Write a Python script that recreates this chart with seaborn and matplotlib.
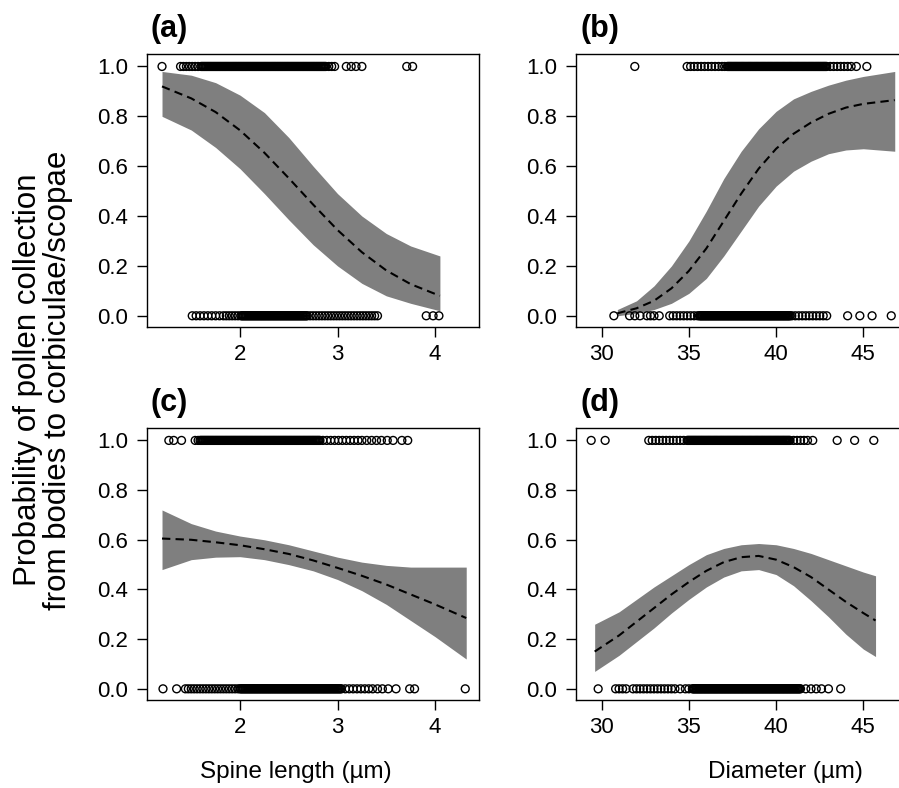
import numpy as np
import matplotlib
matplotlib.use("Agg")
import matplotlib.pyplot as plt
import seaborn as sns

# ---- data ----
# (a) spine length, model with spine length only
spine_a_yes = [1.20, 1.39, 1.42, 1.45, 1.48, 1.51, 1.54, 1.57,
               1.60, 1.61, 1.62, 1.63, 1.64, 1.65, 1.66, 1.67, 1.68, 1.69,
               1.70, 1.71, 1.72, 1.73, 1.74, 1.75, 1.76, 1.77, 1.78, 1.79,
               1.80, 1.81, 1.82, 1.83, 1.84, 1.85, 1.86, 1.87, 1.88, 1.89,
               1.90, 1.91, 1.92, 1.93, 1.94, 1.95, 1.96, 1.97, 1.98, 1.99,
               2.00, 2.01, 2.02, 2.03, 2.04, 2.05, 2.06, 2.07, 2.08, 2.09,
               2.10, 2.11, 2.12, 2.13, 2.14, 2.15, 2.16, 2.17, 2.18, 2.19,
               2.20, 2.21, 2.22, 2.23, 2.24, 2.25, 2.26, 2.27, 2.28, 2.29,
               2.30, 2.31, 2.32, 2.33, 2.34, 2.35, 2.36, 2.37, 2.38, 2.39,
               2.40, 2.41, 2.42, 2.43, 2.44, 2.45, 2.46, 2.47, 2.48, 2.49,
               2.50, 2.51, 2.52, 2.53, 2.54, 2.55, 2.56, 2.57, 2.58, 2.59,
               2.60, 2.61, 2.62, 2.63, 2.64, 2.65, 2.66, 2.67, 2.68, 2.69,
               2.70, 2.71, 2.72, 2.73, 2.74, 2.75, 2.76, 2.77, 2.78, 2.79,
               2.80, 2.81, 2.82, 2.83, 2.84, 2.85, 2.86, 2.87, 2.88,
               2.91, 2.94, 2.97, 3.09, 3.14, 3.19, 3.25, 3.71, 3.77]
spine_a_no = [1.51, 1.55, 1.59, 1.63, 1.67, 1.71, 1.75, 1.79, 1.83, 1.86, 1.89, 1.92, 1.95,
              1.98, 2.01, 2.02, 2.03, 2.04, 2.05, 2.06, 2.07, 2.08, 2.09,
              2.10, 2.11, 2.12, 2.13, 2.14, 2.15, 2.16, 2.17, 2.18, 2.19,
              2.20, 2.21, 2.22, 2.23, 2.24, 2.25, 2.26, 2.27, 2.28, 2.29,
              2.30, 2.31, 2.32, 2.33, 2.34, 2.35, 2.36, 2.37, 2.38, 2.39,
              2.40, 2.41, 2.42, 2.43, 2.44, 2.45, 2.46, 2.47, 2.48, 2.49,
              2.50, 2.51, 2.52, 2.53, 2.54, 2.55, 2.56, 2.57, 2.58, 2.59,
              2.60, 2.61, 2.62, 2.63, 2.64, 2.65, 2.66, 2.67, 2.68, 2.69,
              2.72, 2.75, 2.78, 2.81, 2.84, 2.87, 2.90, 2.93, 2.96, 2.99, 3.02, 3.05,
              3.08, 3.11, 3.14, 3.17, 3.20, 3.23, 3.26, 3.29, 3.32, 3.35, 3.38, 3.41,
              3.91, 3.98, 4.04]
fit_a_x = [1.20, 1.50, 1.75, 2.00, 2.25, 2.50, 2.75, 3.00, 3.25, 3.50, 3.75, 4.05]
fit_a_mean = [0.920, 0.872, 0.817, 0.744, 0.654, 0.552, 0.446, 0.344, 0.255, 0.182, 0.127, 0.080]
fit_a_upper = [0.980, 0.965, 0.935, 0.885, 0.815, 0.715, 0.600, 0.490, 0.400, 0.330, 0.280, 0.240]
fit_a_lower = [0.800, 0.745, 0.675, 0.590, 0.490, 0.385, 0.285, 0.200, 0.130, 0.080, 0.050, 0.020]

# (b) diameter
diam_b_yes = [31.9, 34.9, 35.1, 35.3, 35.5, 35.7, 35.9, 36.1, 36.3, 36.5, 36.7, 36.9, 37.05,
              37.2, 37.25, 37.3, 37.35, 37.4, 37.45, 37.5, 37.55, 37.6, 37.65, 37.7, 37.75,
              37.8, 37.85, 37.9, 37.95, 38.0, 38.05, 38.1, 38.15, 38.2, 38.25, 38.3, 38.35,
              38.4, 38.45, 38.5, 38.55, 38.6, 38.65, 38.7, 38.75, 38.8, 38.85, 38.9, 38.95,
              39.0, 39.05, 39.1, 39.15, 39.2, 39.25, 39.3, 39.35, 39.4, 39.45, 39.5, 39.55,
              39.6, 39.65, 39.7, 39.75, 39.8, 39.85, 39.9, 39.95, 40.0, 40.05, 40.1, 40.15,
              40.2, 40.25, 40.3, 40.35, 40.4, 40.45, 40.5, 40.55, 40.6, 40.65, 40.7, 40.75,
              40.8, 40.85, 40.9, 40.95, 41.0, 41.05, 41.1, 41.15, 41.2, 41.25, 41.3, 41.35,
              41.4, 41.45, 41.5, 41.55, 41.6, 41.65, 41.7, 41.75, 41.8, 41.85, 41.9, 41.95,
              42.0, 42.05, 42.1, 42.15, 42.2, 42.25, 42.3, 42.35, 42.4, 42.45, 42.5, 42.55,
              42.6, 42.65, 42.7, 42.75, 42.8, 42.85, 42.9,
              43.1, 43.3, 43.5, 43.7, 43.9, 44.1, 44.3, 44.6, 45.2]
diam_b_no = [30.7, 31.6, 31.9, 32.2, 32.6, 32.8, 33.0, 33.3, 33.9, 34.1, 34.3, 34.5, 34.7,
             34.9, 35.1, 35.3, 35.5,
             35.6, 35.65, 35.7, 35.75, 35.8, 35.85, 35.9, 35.95, 36.0, 36.05, 36.1, 36.15,
             36.2, 36.25, 36.3, 36.35, 36.4, 36.45, 36.5, 36.55, 36.6, 36.65, 36.7, 36.75,
             36.8, 36.85, 36.9, 36.95, 37.0, 37.05, 37.1, 37.15, 37.2, 37.25, 37.3, 37.35,
             37.4, 37.45, 37.5, 37.55, 37.6, 37.65, 37.7, 37.75, 37.8, 37.85, 37.9, 37.95,
             38.0, 38.05, 38.1, 38.15, 38.2, 38.25, 38.3, 38.35, 38.4, 38.45, 38.5, 38.55,
             38.6, 38.65, 38.7, 38.75, 38.8, 38.85, 38.9, 38.95, 39.0, 39.05, 39.1, 39.15,
             39.2, 39.25, 39.3, 39.35, 39.4, 39.45, 39.5, 39.55, 39.6, 39.65, 39.7, 39.75,
             39.8, 39.85, 39.9, 39.95, 40.0, 40.05, 40.1, 40.15, 40.2, 40.25, 40.3, 40.35,
             40.4, 40.45, 40.5, 40.55, 40.6, 40.65, 40.7, 40.75, 40.8,
             40.9, 41.1, 41.3, 41.5, 41.7, 41.9, 42.1, 42.3, 42.5, 42.7, 42.9,
             44.1, 44.8, 45.5, 46.6]
fit_b_x = [30.9, 32.0, 33.0, 34.0, 35.0, 36.0, 37.0, 38.0, 39.0, 40.0, 41.0, 42.0, 43.0, 44.0, 45.0, 46.8]
fit_b_mean = [0.010, 0.030, 0.060, 0.110, 0.180, 0.270, 0.380, 0.490, 0.590, 0.670, 0.730, 0.775, 0.810, 0.835, 0.850, 0.865]
fit_b_upper = [0.025, 0.060, 0.120, 0.200, 0.300, 0.420, 0.550, 0.660, 0.750, 0.820, 0.870, 0.900, 0.925, 0.945, 0.960, 0.980]
fit_b_lower = [0.000, 0.010, 0.025, 0.050, 0.090, 0.150, 0.240, 0.340, 0.440, 0.520, 0.580, 0.620, 0.650, 0.665, 0.670, 0.660]

# (c) spine length, full model
spine_c_yes = [1.27, 1.32, 1.40, 1.54, 1.57,
               1.59, 1.60, 1.61, 1.62, 1.63, 1.64, 1.65, 1.66, 1.67, 1.68, 1.69,
               1.70, 1.71, 1.72, 1.73, 1.74, 1.75, 1.76, 1.77, 1.78, 1.79,
               1.80, 1.81, 1.82, 1.83, 1.84, 1.85, 1.86, 1.87, 1.88, 1.89,
               1.90, 1.91, 1.92, 1.93, 1.94, 1.95, 1.96, 1.97, 1.98, 1.99,
               2.00, 2.01, 2.02, 2.03, 2.04, 2.05, 2.06, 2.07, 2.08, 2.09,
               2.10, 2.11, 2.12, 2.13, 2.14, 2.15, 2.16, 2.17, 2.18, 2.19,
               2.20, 2.21, 2.22, 2.23, 2.24, 2.25, 2.26, 2.27, 2.28, 2.29,
               2.30, 2.31, 2.32, 2.33, 2.34, 2.35, 2.36, 2.37, 2.38, 2.39,
               2.40, 2.41, 2.42, 2.43, 2.44, 2.45, 2.46, 2.47, 2.48, 2.49,
               2.50, 2.51, 2.52, 2.53, 2.54, 2.55, 2.56, 2.57, 2.58, 2.59,
               2.60, 2.61, 2.62, 2.63, 2.64, 2.65, 2.66, 2.67, 2.68, 2.69,
               2.70, 2.71, 2.72, 2.73, 2.74, 2.75, 2.76, 2.77, 2.78, 2.79,
               2.80, 2.81, 2.82,
               2.85, 2.89, 2.93, 2.97, 3.01, 3.05, 3.09, 3.13, 3.17, 3.21, 3.25, 3.30, 3.35,
               3.40, 3.45, 3.51, 3.57, 3.66, 3.72]
spine_c_no = [1.21, 1.35, 1.44, 1.47, 1.50, 1.53, 1.56, 1.59, 1.62, 1.65, 1.68, 1.71, 1.74,
              1.77, 1.80, 1.83, 1.86, 1.89, 1.92, 1.95, 1.98,
              2.00, 2.01, 2.02, 2.03, 2.04, 2.05, 2.06, 2.07, 2.08, 2.09,
              2.10, 2.11, 2.12, 2.13, 2.14, 2.15, 2.16, 2.17, 2.18, 2.19,
              2.20, 2.21, 2.22, 2.23, 2.24, 2.25, 2.26, 2.27, 2.28, 2.29,
              2.30, 2.31, 2.32, 2.33, 2.34, 2.35, 2.36, 2.37, 2.38, 2.39,
              2.40, 2.41, 2.42, 2.43, 2.44, 2.45, 2.46, 2.47, 2.48, 2.49,
              2.50, 2.51, 2.52, 2.53, 2.54, 2.55, 2.56, 2.57, 2.58, 2.59,
              2.60, 2.61, 2.62, 2.63, 2.64, 2.65, 2.66, 2.67, 2.68, 2.69,
              2.70, 2.71, 2.72, 2.73, 2.74, 2.75, 2.76, 2.77, 2.78, 2.79,
              2.80, 2.81, 2.82, 2.83, 2.84, 2.85, 2.86, 2.87, 2.88, 2.89,
              2.90, 2.91, 2.92, 2.93, 2.94, 2.95, 2.96, 2.97, 2.98, 2.99,
              3.00, 3.01, 3.02, 3.03, 3.04,
              3.08, 3.12, 3.16, 3.20, 3.24, 3.28, 3.32, 3.36, 3.41, 3.46, 3.52, 3.60,
              3.74, 3.79, 4.31]
fit_c_x = [1.20, 1.50, 1.75, 2.00, 2.25, 2.50, 2.75, 3.00, 3.25, 3.50, 3.75, 4.00, 4.32]
fit_c_mean = [0.605, 0.600, 0.590, 0.578, 0.562, 0.543, 0.517, 0.487, 0.455, 0.420, 0.380, 0.340, 0.285]
fit_c_upper = [0.720, 0.665, 0.635, 0.615, 0.600, 0.580, 0.555, 0.530, 0.510, 0.497, 0.490, 0.490, 0.490]
fit_c_lower = [0.480, 0.520, 0.530, 0.532, 0.520, 0.500, 0.475, 0.440, 0.395, 0.340, 0.275, 0.210, 0.120]

# (d) diameter, full model
diam_d_yes = [29.4, 30.2, 32.7, 32.9, 33.1, 33.3, 33.5, 33.7, 33.9, 34.1, 34.3, 34.5, 34.7,
              34.9, 34.95, 35.0, 35.05, 35.1, 35.15, 35.2, 35.25, 35.3, 35.35, 35.4, 35.45,
              35.5, 35.55, 35.6, 35.65, 35.7, 35.75, 35.8, 35.85, 35.9, 35.95, 36.0, 36.05,
              36.1, 36.15, 36.2, 36.25, 36.3, 36.35, 36.4, 36.45, 36.5, 36.55, 36.6, 36.65,
              36.7, 36.75, 36.8, 36.85, 36.9, 36.95, 37.0, 37.05, 37.1, 37.15, 37.2, 37.25,
              37.3, 37.35, 37.4, 37.45, 37.5, 37.55, 37.6, 37.65, 37.7, 37.75, 37.8, 37.85,
              37.9, 37.95, 38.0, 38.05, 38.1, 38.15, 38.2, 38.25, 38.3, 38.35, 38.4, 38.45,
              38.5, 38.55, 38.6, 38.65, 38.7, 38.75, 38.8, 38.85, 38.9, 38.95, 39.0, 39.05,
              39.1, 39.15, 39.2, 39.25, 39.3, 39.35, 39.4, 39.45, 39.5, 39.55, 39.6, 39.65,
              39.7, 39.75, 39.8, 39.85, 39.9, 39.95, 40.0, 40.05, 40.1, 40.15, 40.2, 40.25,
              40.3, 40.35, 40.4, 40.45, 40.5, 40.55, 40.6, 40.65, 40.7, 40.75, 40.8,
              41.0, 41.2, 41.4, 41.6, 41.8, 42.1, 43.5, 44.5, 45.6]
diam_d_no = [29.8, 30.8, 31.0, 31.2, 31.4, 31.8, 32.0, 32.2, 32.4, 32.6, 32.8, 33.0, 33.2,
             33.4, 33.6, 33.8, 34.0, 34.2, 34.5, 34.8, 35.0,
             35.2, 35.25, 35.3, 35.35, 35.4, 35.45, 35.5, 35.55, 35.6, 35.65, 35.7, 35.75,
             35.8, 35.85, 35.9, 35.95, 36.0, 36.05, 36.1, 36.15, 36.2, 36.25, 36.3, 36.35,
             36.4, 36.45, 36.5, 36.55, 36.6, 36.65, 36.7, 36.75, 36.8, 36.85, 36.9, 36.95,
             37.0, 37.05, 37.1, 37.15, 37.2, 37.25, 37.3, 37.35, 37.4, 37.45, 37.5, 37.55,
             37.6, 37.65, 37.7, 37.75, 37.8, 37.85, 37.9, 37.95, 38.0, 38.05, 38.1, 38.15,
             38.2, 38.25, 38.3, 38.35, 38.4, 38.45, 38.5, 38.55, 38.6, 38.65, 38.7, 38.75,
             38.8, 38.85, 38.9, 38.95, 39.0, 39.05, 39.1, 39.15, 39.2, 39.25, 39.3, 39.35,
             39.4, 39.45, 39.5, 39.55, 39.6, 39.65, 39.7, 39.75, 39.8, 39.85, 39.9, 39.95,
             40.0, 40.05, 40.1, 40.15, 40.2, 40.25, 40.3, 40.35, 40.4, 40.45, 40.5, 40.55,
             40.6, 40.65, 40.7, 40.75, 40.8, 40.85, 40.9, 40.95, 41.0, 41.05, 41.1, 41.15,
             41.2, 41.25, 41.3, 41.35, 41.4,
             41.7, 42.0, 42.3, 42.6, 43.0, 43.7]
fit_d_x = [29.6, 31.0, 32.0, 33.0, 34.0, 35.0, 36.0, 37.0, 38.0, 39.0, 40.0, 41.0, 42.0, 43.0, 44.0, 45.0, 45.7]
fit_d_mean = [0.150, 0.215, 0.270, 0.325, 0.380, 0.430, 0.475, 0.510, 0.530, 0.535, 0.520, 0.490, 0.450, 0.400, 0.350, 0.305, 0.275]
fit_d_upper = [0.260, 0.310, 0.360, 0.410, 0.455, 0.500, 0.540, 0.565, 0.580, 0.585, 0.580, 0.565, 0.545, 0.520, 0.495, 0.470, 0.455]
fit_d_lower = [0.070, 0.135, 0.190, 0.245, 0.305, 0.360, 0.410, 0.450, 0.475, 0.480, 0.460, 0.415, 0.355, 0.290, 0.220, 0.160, 0.130]

y_ticks = [0.0, 0.2, 0.4, 0.6, 0.8, 1.0]
y_tick_labels = ["0.0", "0.2", "0.4", "0.6", "0.8", "1.0"]
spine_ticks = [2, 3, 4]
diam_ticks = [30, 35, 40, 45]

# ---- style ----
sns.set_theme(style="ticks")
plt.rcParams['font.family'] = ['Liberation Sans', 'DejaVu Sans']
plt.rcParams['text.color'] = 'black'

W, H = 899, 788
fig = plt.figure(figsize=(W / 100, H / 100), dpi=100)

def px_axes(left, top, right, bottom):
    return fig.add_axes([left / W, 1 - bottom / H, (right - left) / W, (bottom - top) / H])

panels = [
    # axes box (px), data, xlim, xticks, label
    ((147, 54, 479, 327), spine_a_yes, spine_a_no, fit_a_x, fit_a_mean, fit_a_upper, fit_a_lower,
     (1.046, 4.451), spine_ticks, "(a)", (151, 37)),
    ((576, 54, 908, 327), diam_b_yes, diam_b_no, fit_b_x, fit_b_mean, fit_b_upper, fit_b_lower,
     (28.53, 47.56), diam_ticks, "(b)", (580, 37)),
    ((147, 428, 479, 700), spine_c_yes, spine_c_no, fit_c_x, fit_c_mean, fit_c_upper, fit_c_lower,
     (1.046, 4.451), spine_ticks, "(c)", (151, 411)),
    ((576, 428, 908, 700), diam_d_yes, diam_d_no, fit_d_x, fit_d_mean, fit_d_upper, fit_d_lower,
     (28.53, 47.56), diam_ticks, "(d)", (580, 411)),
]

for box, yes, no, fx, fm, fu, fl, xlim, xt, lab, lab_pos in panels:
    ax = px_axes(*box)
    ax.fill_between(fx, fl, fu, color="#7f7f7f", linewidth=0, zorder=1)
    sns.lineplot(x=fx, y=fm, ax=ax, color="black", linewidth=1.5,
                 linestyle=(0, (4, 2.5)), zorder=2)
    xs = list(yes) + list(no)
    ys = [1.0] * len(yes) + [0.0] * len(no)
    sns.scatterplot(x=xs, y=ys, ax=ax, s=32, marker="o", facecolor="none",
                    edgecolor="black", linewidth=1.0, zorder=3)
    ax.set_xlim(*xlim)
    ax.set_ylim(-0.045, 1.05)
    ax.set_xticks(xt)
    ax.set_yticks(y_ticks)
    ax.set_yticklabels(y_tick_labels)
    ax.tick_params(axis="both", direction="out", length=7.5, width=1.0,
                   labelsize=16, color="black", labelcolor="black")
    ax.tick_params(axis="y", pad=6)
    ax.tick_params(axis="x", pad=5)
    for sp in ax.spines.values():
        sp.set_visible(True)
        sp.set_color("black")
        sp.set_linewidth(1.0)
    ax.set_xlabel("")
    ax.set_ylabel("")
    fig.text(lab_pos[0] / W, 1 - lab_pos[1] / H, lab, fontsize=22, fontweight="bold",
             ha="left", va="baseline")

fig.text(28 / W, 1 - 380 / H, "Probability of pollen collection",
         rotation=90, ha="center", va="center", fontsize=22.5)
fig.text(58 / W, 1 - 380 / H, "from bodies to corbiculae/scopae",
         rotation=90, ha="center", va="center", fontsize=22.5)
fig.text(296 / W, 1 - 772 / H, "Spine length (µm)", ha="center", va="center", fontsize=17.5)
fig.text(785 / W, 1 - 772 / H, "Diameter (µm)", ha="center", va="center", fontsize=17.5)

fig.savefig("out.png", dpi=100)
